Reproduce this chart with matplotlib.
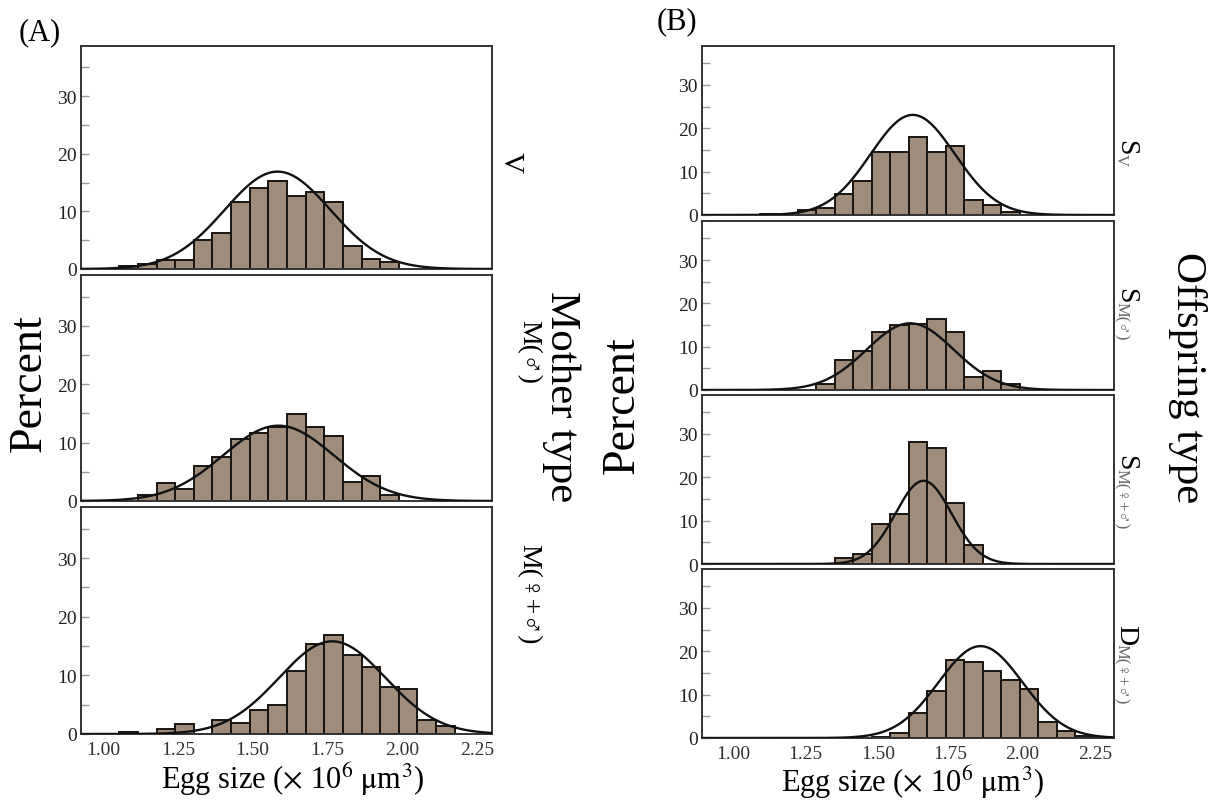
import numpy as np
import matplotlib
matplotlib.use('Agg')
import matplotlib.pyplot as plt
from matplotlib.ticker import FixedLocator

W, H = 1212, 803
SERIF = ['Liberation Serif', 'DejaVu Serif', 'DejaVu Sans']
plt.rcParams['font.family'] = SERIF
plt.rcParams['mathtext.fontset'] = 'stix'

# ---------------- data ----------------
bin_start_A, bin_width_A = 1.054, 0.0623
bin_start_B, bin_width_B = 1.031, 0.064

# percentages per bin (bin k starts at bin_start + k*bin_width)
V_pct = [0.5, 0.8, 1.6, 1.5, 5.0, 6.2, 11.6, 14.0, 15.2, 12.7, 13.4, 11.6, 4.0, 1.7, 1.3]
Mm_pct = [0, 1.0, 3.1, 2.1, 6.0, 7.5, 10.6, 11.7, 12.6, 14.9, 12.6, 11.1, 3.3, 4.2, 1.0]
Mfm_pct = [0.4, 0, 0.9, 1.7, 0, 2.4, 1.8, 4.1, 5.0, 10.7, 15.4, 16.9, 13.5, 11.5, 8.0, 7.6, 2.4, 1.3]

Sv_pct = [0, 0.3, 0, 1.2, 1.6, 4.8, 7.9, 14.6, 14.6, 18.1, 14.6, 16.0, 3.5, 2.2, 0.8]
SMm_pct = [0, 0, 0, 0, 1.4, 6.9, 9.1, 13.5, 15.0, 15.2, 16.5, 13.5, 2.9, 4.5, 1.5]
SMfm_pct = [0, 0, 0, 0, 0, 1.4, 2.3, 9.2, 11.5, 28.1, 26.7, 14.0, 4.5]
DMfm_pct = [0, 0, 0, 0, 0, 0, 0, 0.3, 1.2, 5.7, 10.9, 18.0, 17.6, 15.5, 13.4, 11.2, 3.8, 1.7, 0.5]

# fitted normal curves: (mean, sd, peak %)
V_fit = (1.583, 0.177, 16.9)
Mm_fit = (1.586, 0.185, 12.9)
Mfm_fit = (1.766, 0.178, 15.8)
Sv_fit = (1.621, 0.146, 23.1)
SMm_fit = (1.612, 0.150, 15.4)
SMfm_fit = (1.658, 0.097, 19.2)
DMfm_fit = (1.855, 0.145, 21.2)

xticks = [1.00, 1.25, 1.50, 1.75, 2.00, 2.25]
xtick_labels = ['1.00', '1.25', '1.50', '1.75', '2.00', '2.25']
yticks = [0, 10, 20, 30]
yminor = [5, 15, 25, 35]

BAR_COLOR = '#9f8c7a'

fig = plt.figure(figsize=(W / 100, H / 100), dpi=100)


def add_axes(l, r, t, b):
    return fig.add_axes([l / W, 1 - b / H, (r - l) / W, (b - t) / H])


def draw(ax, pct, start, width, fit, xlim, ylim, show_x):
    pct = np.asarray(pct, float)
    left = start + width * np.arange(len(pct))
    m = pct > 0
    ax.bar(left[m], pct[m], width=width, align='edge', color=BAR_COLOR,
           edgecolor='#1a1410', linewidth=1.4, zorder=2)
    xs = np.linspace(xlim[0], xlim[1], 400)
    mu, sd, pk = fit
    ax.plot(xs, pk * np.exp(-0.5 * ((xs - mu) / sd) ** 2), color='#111111', lw=1.7, zorder=3)
    ax.set_xlim(*xlim)
    ax.set_ylim(*ylim)
    ax.set_yticks(yticks)
    ax.set_yticklabels([str(v) for v in yticks])
    ax.yaxis.set_minor_locator(FixedLocator(yminor))
    ax.tick_params(axis='y', which='both', direction='in', length=6, width=1.0,
                   color='#999999', labelsize=14, pad=3, labelcolor='#222222')
    ax.set_xticks(xticks)
    if show_x:
        ax.set_xticklabels(xtick_labels)
    else:
        ax.set_xticklabels([])
    ax.tick_params(axis='x', length=0, labelsize=14, pad=5, labelcolor='#333333')
    for s in ax.spines.values():
        s.set_linewidth(1.4)
        s.set_color('#333333')


# Panel A
xA = (0.926, 2.30)
ylA = (0, 38.7)
axA1 = add_axes(81, 492, 47, 270)
axA2 = add_axes(81, 492, 276, 502)
axA3 = add_axes(81, 492, 508, 735)
draw(axA1, V_pct, bin_start_A, bin_width_A, V_fit, xA, ylA, False)
draw(axA2, Mm_pct, bin_start_A, bin_width_A, Mm_fit, xA, ylA, False)
draw(axA3, Mfm_pct, bin_start_A, bin_width_A, Mfm_fit, xA, ylA, True)

# Panel B
xB = (0.893, 2.316)
ylB = (0, 39.0)
axB1 = add_axes(702, 1114, 47, 216)
axB2 = add_axes(702, 1114, 222, 391)
axB3 = add_axes(702, 1114, 396, 565)
axB4 = add_axes(702, 1114, 570, 739)
draw(axB1, Sv_pct, bin_start_B, bin_width_B, Sv_fit, xB, ylB, False)
draw(axB2, SMm_pct, bin_start_B, bin_width_B, SMm_fit, xB, ylB, False)
draw(axB3, SMfm_pct, bin_start_B, bin_width_B, SMfm_fit, xB, ylB, False)
draw(axB4, DMfm_pct, bin_start_B, bin_width_B, DMfm_fit, xB, ylB, True)


def ftext(px, py, s, **kw):
    return fig.text(px / W, 1 - py / H, s, **kw)


# panel letters
ftext(40, 33, '(A)', fontsize=22, ha='center', va='center')
ftext(677, 22, '(B)', fontsize=22, ha='center', va='center')

# axis labels
xl = r'Egg size ($\times$ 10$^{6}$ $\mathrm{\mu}$m$^{3}$)'
ftext(292, 789, xl, fontsize=22, ha='center', va='baseline')
ftext(912, 792, xl, fontsize=22, ha='center', va='baseline')
ftext(29, 383, 'Percent', fontsize=33, rotation=90, ha='center', va='center')
ftext(622, 405, 'Percent', fontsize=33, rotation=90, ha='center', va='center')
ftext(561, 397, 'Mother type', fontsize=31, rotation=-90, ha='center', va='center')
ftext(1187, 378, 'Offspring type', fontsize=31, rotation=-90, ha='center', va='center')

SYM = ['Liberation Serif', 'DejaVu Sans']

# mother-type labels
ftext(511, 163, 'V', fontsize=21, rotation=-90, ha='center', va='center')
ftext(529, 352, 'M(♂)', fontsize=20, rotation=-90, ha='center', va='center', family=SYM)
ftext(529, 594, 'M(♀+♂)', fontsize=20, rotation=-90, ha='center', va='center', family=SYM)

# offspring-type labels: main letter + grey subscript
fig.canvas.draw()
renderer = fig.canvas.get_renderer()


def sub_label(px, py_top, main, sub, main_size=20, sub_size=12):
    t = ftext(px, py_top, main, fontsize=main_size, rotation=-90, ha='center', va='top')
    bb = t.get_window_extent(renderer)
    x_disp = bb.x0 + 0.30 * bb.width
    y_disp = bb.y0 + 1
    fx, fy = fig.transFigure.inverted().transform((x_disp, y_disp))
    fig.text(fx, fy, sub, fontsize=sub_size, rotation=-90, ha='center', va='top',
             color='#666666', family=SYM)


sub_label(1126, 140, 'S', 'V', sub_size=12)
sub_label(1126, 288, 'S', 'M(♂)')
sub_label(1126, 455, 'S', 'M(♀+♂)')
sub_label(1126, 625, 'D', 'M(♀+♂)')

fig.savefig('out.png', dpi=100)
